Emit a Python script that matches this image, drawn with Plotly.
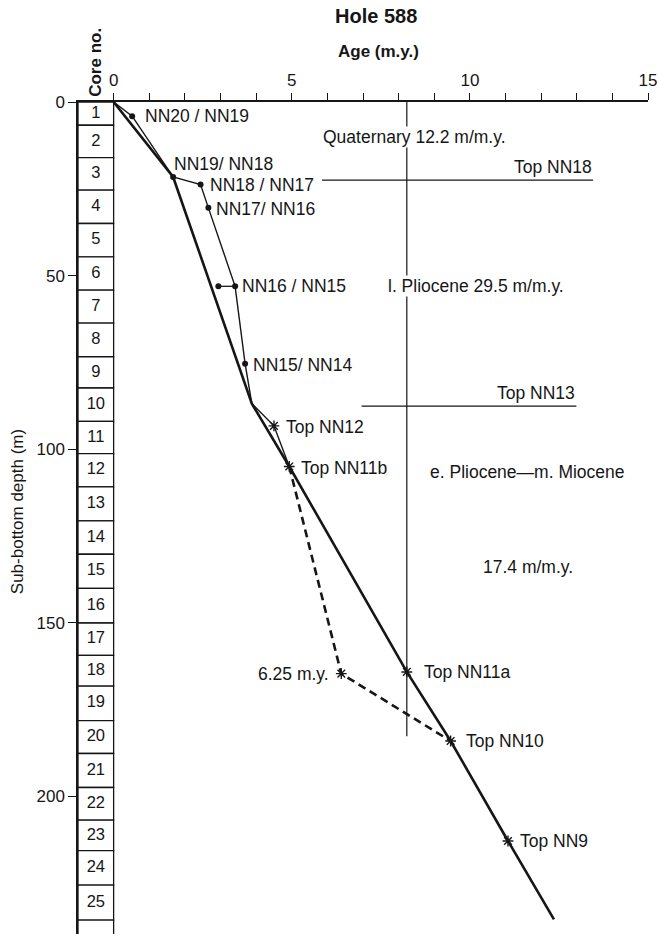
import plotly.graph_objects as go

# ---------------- data ----------------
# core column (sub-bottom depth of core boundaries, m)
core_numbers = list(range(1, 26))
core_boundaries = [0, 6.7, 16.0, 25.4, 35.0, 44.6, 54.2, 63.7, 73.4, 82.4, 92.0,
                   101.3, 110.9, 120.7, 130.3, 140.1, 150.1, 159.4, 168.3, 178.2,
                   187.7, 197.5, 206.9, 215.7, 225.6, 235.7, 246.0]

# nannofossil zone boundaries (dots)
dot_labels = ["NN20 / NN19", "NN19/ NN18", "NN18 / NN17", "NN17/ NN16", "", "NN16 / NN15", "NN15/ NN14"]
dot_age = [0.52, 1.67, 2.44, 2.66, 2.94, 3.41, 3.69]
dot_depth = [4.1, 21.6, 23.8, 30.5, 53.1, 53.1, 75.4]

# datum levels (stars)
star_labels = ["Top NN12", "Top NN11b", "6.25 m.y.", "Top NN11a", "Top NN10", "Top NN9"]
star_age = [4.50, 4.93, 6.39, 8.23, 9.46, 11.07]
star_depth = [93.3, 105.0, 164.7, 164.2, 184.1, 212.9]

# thin age-depth curve (all datums)
thin_age = [0, 0.52, 1.67, 2.44, 2.66, 3.41, 3.69, 3.88, 4.50, 4.93]
thin_depth = [0, 4.1, 21.6, 23.8, 30.5, 53.1, 75.4, 86.9, 93.3, 105.0]

# thick interpreted age-depth curve
thick_age = [0, 1.67, 3.88, 4.93, 8.23, 9.46, 11.07, 12.36]
thick_depth = [0, 21.6, 86.9, 105.0, 164.2, 184.1, 212.9, 235.5]

# dashed alternative curve
dash_age = [4.93, 6.39, 9.46]
dash_depth = [105.0, 164.7, 184.1]

# NN16/NN15 pair connector
pair_age = [2.94, 3.41]
pair_depth = [53.1, 53.1]

# zone tops (horizontal lines)
top_names = ["Top NN18", "Top NN13"]
top_depth = [22.5, 87.6]
top_age_start = [5.85, 6.96]
top_age_end = [13.46, 12.99]

# Miocene/Pliocene boundary age line
boundary_age = 8.23
boundary_depth = [0, 182.7]

# axis ticks
x_tickvals = list(range(0, 16))
x_ticktext = [str(v) if v % 5 == 0 else "" for v in x_tickvals]
y_tickvals = [0, 50, 100, 150, 200]

# ---------------- figure ----------------
INK = "#161616"
FONT = "Liberation Sans"

fig = go.Figure()

# core column boxes
tops = core_boundaries[:-1]
lengths = [b - a for a, b in zip(core_boundaries[:-1], core_boundaries[1:])]
fig.add_trace(go.Bar(
    x=[-0.5] * len(tops), y=lengths, base=tops, width=1.0,
    marker=dict(color="white", line=dict(color=INK, width=1.3)),
    hoverinfo="skip"))

core_mid = [(core_boundaries[i] + core_boundaries[i + 1]) / 2 for i in range(len(core_numbers))]
fig.add_trace(go.Scatter(
    x=[-0.5] * len(core_numbers), y=core_mid, mode="text",
    text=[str(c) for c in core_numbers],
    textfont=dict(family=FONT, size=16.5, color=INK), hoverinfo="skip"))

# boundary vertical line
fig.add_trace(go.Scatter(
    x=[boundary_age, boundary_age], y=boundary_depth, mode="lines",
    line=dict(color=INK, width=1.2), hoverinfo="skip"))

# zone top lines
for i in range(len(top_names)):
    fig.add_trace(go.Scatter(
        x=[top_age_start[i], top_age_end[i]], y=[top_depth[i], top_depth[i]],
        mode="lines", line=dict(color=INK, width=1.3), hoverinfo="skip"))

# curves
fig.add_trace(go.Scatter(x=thin_age, y=thin_depth, mode="lines",
                         line=dict(color=INK, width=1.4), hoverinfo="skip"))
fig.add_trace(go.Scatter(x=thick_age, y=thick_depth, mode="lines",
                         line=dict(color=INK, width=2.6), hoverinfo="skip"))
fig.add_trace(go.Scatter(x=dash_age, y=dash_depth, mode="lines",
                         line=dict(color=INK, width=2.6, dash="8px,5px"), hoverinfo="skip"))
fig.add_trace(go.Scatter(x=pair_age, y=pair_depth, mode="lines",
                         line=dict(color=INK, width=1.3), hoverinfo="skip"))

# markers
fig.add_trace(go.Scatter(x=dot_age, y=dot_depth, mode="markers",
                         marker=dict(symbol="circle", size=6, color=INK), hoverinfo="skip"))
fig.add_trace(go.Scatter(x=star_age, y=star_depth, mode="markers",
                         marker=dict(symbol="asterisk-open", size=9, color=INK,
                                     line=dict(color=INK, width=1.4)), hoverinfo="skip"))

annotations = []
lab_font = dict(family=FONT, size=17.5, color=INK)

# dot labels
dot_xshift = [12, 0, 8, 7, 0, 6, 7]
dot_yshift = [0, 13, 0, -1, 0, 0, -1]
for lab, a, d, xs, ys in zip(dot_labels, dot_age, dot_depth, dot_xshift, dot_yshift):
    if not lab:
        continue
    annotations.append(dict(x=a, y=d, xref="x", yref="y", text=lab, showarrow=False,
                            xanchor="left", yanchor="middle", xshift=xs, yshift=ys,
                            font=lab_font, borderpad=0))

# star labels
star_xshift = [11, 11, -11, 16, 14, 11]
star_yshift = [-1, -2, 0, 0, 0, 0]
for lab, a, d, xs, ys in zip(star_labels, star_age, star_depth, star_xshift, star_yshift):
    annotations.append(dict(x=a, y=d, xref="x", yref="y", text=lab, showarrow=False,
                            xanchor="right" if xs < 0 else "left", yanchor="middle",
                            xshift=xs, yshift=ys, font=lab_font, borderpad=0))

# zone top labels (right-aligned above the lines)
for name, d, xe in zip(top_names, top_depth, top_age_end):
    annotations.append(dict(x=xe, y=d, xref="x", yref="y", text=name, showarrow=False,
                            xanchor="right", yanchor="bottom", yshift=2,
                            font=lab_font, borderpad=0))

# interval / rate annotations
annotations += [
    dict(x=5.84, y=10.1, text="Quaternary 12.2 m/m.y.", xanchor="left",
         bgcolor="white"),
    dict(x=7.66, y=53.1, text="l. Pliocene 29.5 m/m.y.", xanchor="left",
         bgcolor="white"),
    dict(x=8.86, y=106.6, text="e. Pliocene\u2014m. Miocene", xanchor="left"),
    dict(x=10.34, y=134.1, text="17.4 m/m.y.", xanchor="left"),
]
for a in annotations[-4:]:
    a.update(xref="x", yref="y", showarrow=False, yanchor="middle",
             font=lab_font, borderpad=0)

# titles
annotations += [
    dict(x=0.522, y=1.1032, xref="paper", yref="paper", text="<b>Hole 588</b>",
         showarrow=False, xanchor="center", yanchor="middle",
         font=dict(family=FONT, size=20, color=INK)),
    dict(x=0.5266, y=1.0609, xref="paper", yref="paper", text="<b>Age (m.y.)</b>",
         showarrow=False, xanchor="center", yanchor="middle",
         font=dict(family=FONT, size=17, color=INK)),
    dict(x=0.0316, y=1.0471, xref="paper", yref="paper", text="<b>Core no.</b>",
         showarrow=False, xanchor="center", yanchor="middle", textangle=-90,
         font=dict(family=FONT, size=17, color=INK)),
    dict(x=-0.107, y=0.507, xref="paper", yref="paper", text="Sub-bottom depth (m)",
         showarrow=False, xanchor="center", yanchor="middle", textangle=-90,
         font=dict(family=FONT, size=17, color=INK)),
]

fig.update_layout(
    width=659, height=934,
    margin=dict(l=78, r=11, t=102, b=0, pad=0),
    paper_bgcolor="white", plot_bgcolor="white",
    showlegend=False,
    annotations=annotations,
    xaxis=dict(range=[-1, 15], side="top", tickvals=x_tickvals, ticktext=x_ticktext,
               ticks="outside", ticklen=7, tickwidth=1.3, tickcolor=INK,
               showline=True, linecolor=INK, linewidth=1.5,
               showgrid=False, zeroline=False,
               tickfont=dict(family=FONT, size=17, color=INK)),
    yaxis=dict(range=[239.7, 0], tickvals=y_tickvals,
               ticks="outside", ticklen=8, tickwidth=1.3, tickcolor=INK,
               showline=True, linecolor=INK, linewidth=1.5,
               showgrid=False, zeroline=False,
               tickfont=dict(family=FONT, size=17, color=INK)),
)

fig.write_html("out.html")
